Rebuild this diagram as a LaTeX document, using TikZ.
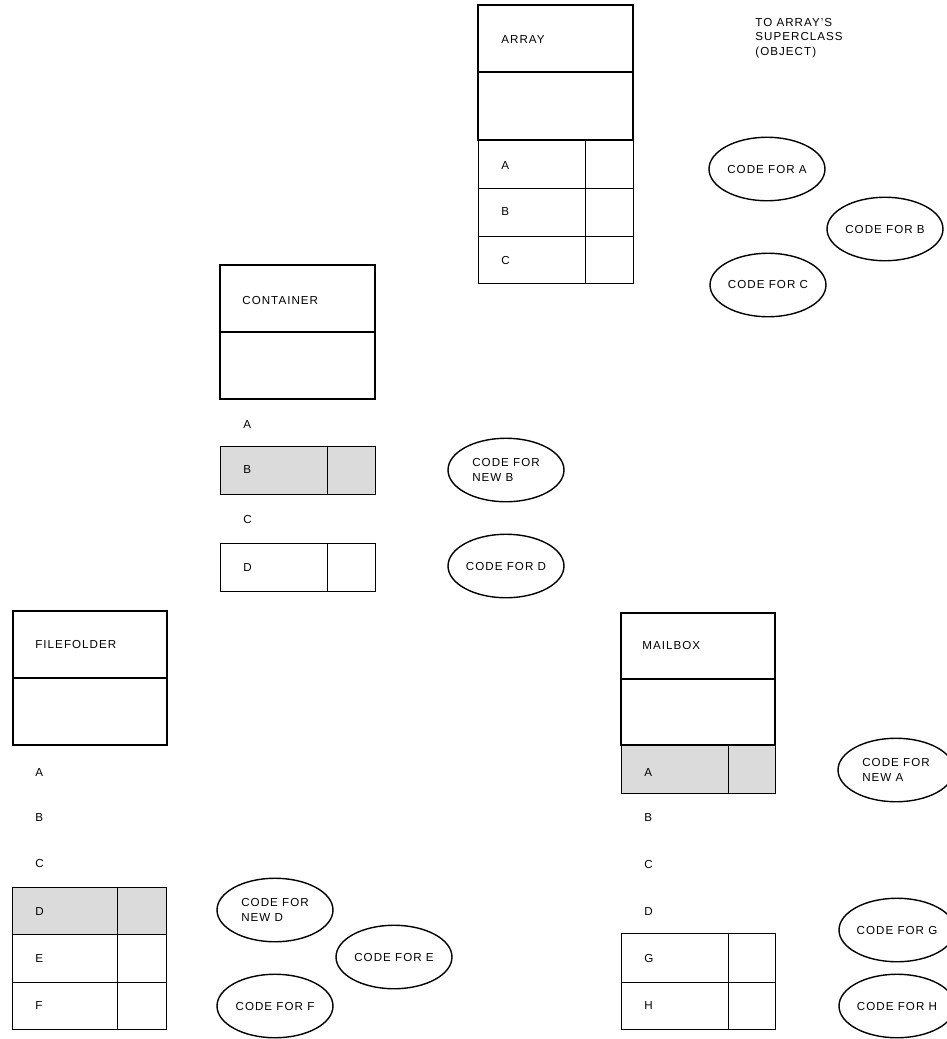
\documentclass[tikz,border=0pt]{standalone}
\usepackage{fontspec}
\setsansfont{Liberation Sans}[LetterSpace=9]
\usetikzlibrary{shapes.geometric}

\tikzset{
  hdr/.style={line width=1.1pt},
  rowline/.style={line width=0.55pt},
  newrow/.style={rowline, fill=gray!28},
  lbl/.style={anchor=west, inner sep=0pt},
  code/.style={draw, ellipse, line width=0.8pt, minimum width=2.32cm,
    minimum height=1.27cm, inner sep=0pt, align=left}
}

\begin{document}
\begin{tikzpicture}[x=0.02cm, y=-0.02cm,
    font=\sffamily\fontsize{6.6}{8.2}\selectfont]
  \useasboundingbox (0,0) rectangle (947,1039);

  % --- ARRAY ---
  \draw[hdr] (478,5) rectangle (633,140);
  \draw[hdr] (478,72) -- (633,72);
  \draw[rowline] (478,140) rectangle (633,283);
  \foreach \y in {188,236} \draw[rowline] (478,\y) -- (633,\y);
  \draw[rowline] (585,140) -- (585,283);
  \node[lbl] (arr) at (501,40) {ARRAY};
  \foreach \t/\y in {A/166,B/212,C/260} \node[lbl] (arr\t) at (501,\y) {\t};
  \node[anchor=north west, inner sep=0pt, align=left] (super) at (755,18)
    {TO ARRAY'S\\SUPERCLASS\\(OBJECT)};
  \node[code] (codeA) at (767,169) {CODE FOR A};
  \node[code] (codeB) at (885,229) {CODE FOR B};
  \node[code] (codeC) at (768,285) {CODE FOR C};

  % --- CONTAINER ---
  \draw[hdr] (220,265) rectangle (375,399);
  \draw[hdr] (220,332) -- (375,332);
  \node[lbl] (cont) at (242,300) {CONTAINER};
  \draw[newrow] (220,446) rectangle (375,494);
  \draw[rowline] (327,446) -- (327,494);
  \draw[rowline] (220,543) rectangle (375,591);
  \draw[rowline] (327,543) -- (327,591);
  \foreach \t/\y in {A/425,B/470,C/519,D/567} \node[lbl] (cont\t) at (243,\y) {\t};
  \node[code] (codeNB) at (506,470) {CODE FOR\\NEW B};
  \node[code] (codeD) at (506,566) {CODE FOR D};

  % --- FILEFOLDER ---
  \draw[hdr] (13,611) rectangle (167,745);
  \draw[hdr] (13,678) -- (167,678);
  \node[lbl] (file) at (35,644) {FILEFOLDER};
  \draw[newrow] (12,887) rectangle (166,934);
  \draw[rowline] (12,934) rectangle (166,1029);
  \draw[rowline] (12,982) -- (166,982);
  \draw[rowline] (117,887) -- (117,1029);
  \foreach \t/\y in {A/772,B/817,C/863,D/911,E/958,F/1005}
    \node[lbl] (file\t) at (35,\y) {\t};
  \node[code] (codeND) at (275,910) {CODE FOR\\NEW D};
  \node[code] (codeE) at (394,957) {CODE FOR E};
  \node[code] (codeF) at (275,1006) {CODE FOR F};

  % --- MAILBOX ---
  \draw[hdr] (621,613) rectangle (775,745);
  \draw[hdr] (621,679) -- (775,679);
  \node[lbl] (mail) at (642,645) {MAILBOX};
  \draw[newrow] (621,745) rectangle (775,793);
  \draw[rowline] (728,745) -- (728,793);
  \draw[rowline] (621,933) rectangle (775,1029);
  \draw[rowline] (621,982) -- (775,982);
  \draw[rowline] (728,933) -- (728,1029);
  \foreach \t/\y in {A/772,B/817,C/864,D/911,G/958,H/1005}
    \node[lbl] (mail\t) at (644,\y) {\t};
  \node[code] (codeNA) at (896,770) {CODE FOR\\NEW A};
  \node[code] (codeG) at (897,930) {CODE FOR G};
  \node[code] (codeH) at (897,1006) {CODE FOR H};
\end{tikzpicture}
\end{document}
